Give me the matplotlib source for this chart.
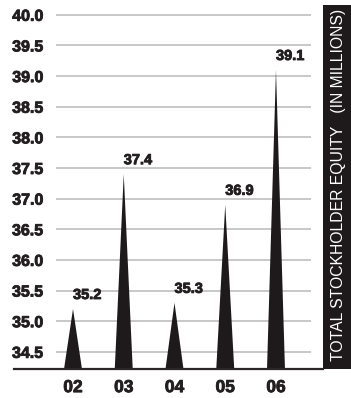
import matplotlib
matplotlib.use("Agg")
import matplotlib.pyplot as plt
import matplotlib.patheffects as pe
from matplotlib.patches import Polygon, Rectangle
from matplotlib.lines import Line2D

years = ["02", "03", "04", "05", "06"]
equity = [35.2, 37.4, 35.3, 36.9, 39.1]
yticks = [34.5, 35.0, 35.5, 36.0, 36.5, 37.0, 37.5, 38.0, 38.5, 39.0, 39.5, 40.0]
side_title = "TOTAL STOCKHOLDER EQUITY   (IN MILLIONS)"

W, H = 351, 398
fig = plt.figure(figsize=(W / 100, H / 100), dpi=100)
ink = "#231f20"
heavy = [pe.withStroke(linewidth=0.6, foreground=ink)]

def fx(px):
    return px / W

def fy(py):
    return 1 - py / H

# plot area in pixel coordinates
left, right, top, bottom = 56, 311, 5, 369
ax = fig.add_axes([fx(left), fy(bottom), fx(right) - fx(left), fy(top) - fy(bottom)])
ax.set_xlim(-0.335, 4.69)
ax.set_ylim(34.22, 40.16)

for v in yticks:
    ax.axhline(v, color="#c8c8c8", lw=1.4, zorder=0)

half = 0.177
base = 34.22
for i, v in enumerate(equity):
    tri = Polygon([(i - half, base), (i + half, base), (i, v)], closed=True,
                  facecolor="#1e1a1b", edgecolor="none", zorder=3)
    ax.add_patch(tri)
    ax.annotate(f"{v:.1f}", xy=(i, v), xytext=(0, 5), textcoords="offset points",
                ha="left", va="bottom", fontsize=10.5, fontweight="bold",
                family="Liberation Sans", color=ink, path_effects=heavy)

ax.set_yticks(yticks)
ax.set_yticklabels([f"{v:.1f}" for v in yticks], fontsize=11.5, fontweight="bold",
                   family="Liberation Sans", color=ink, path_effects=heavy)
ax.set_xticks(range(len(years)))
ax.set_xticklabels(years, fontsize=12.5, fontweight="bold",
                   family="Liberation Sans", color=ink, path_effects=heavy)
ax.tick_params(axis="y", length=0, pad=9)
ax.tick_params(axis="x", length=0, pad=8)
for s in ax.spines.values():
    s.set_visible(False)

# baseline under the peaks
fig.add_artist(Line2D([fx(14), fx(323)], [fy(369), fy(369)], color="#2a2627",
                      lw=1.6, transform=fig.transFigure))

# black title panel
fig.add_artist(Rectangle((fx(323), fy(369)), fx(351) - fx(323), fy(5) - fy(369),
                         transform=fig.transFigure, facecolor="#1e1a1b",
                         edgecolor="none"))
fig.text(fx(338), fy(185), side_title, rotation=90, ha="center", va="center",
         color="white", fontsize=11.3, family=["Liberation Sans Narrow", "Liberation Sans"])

fig.savefig("out.png", dpi=100)
